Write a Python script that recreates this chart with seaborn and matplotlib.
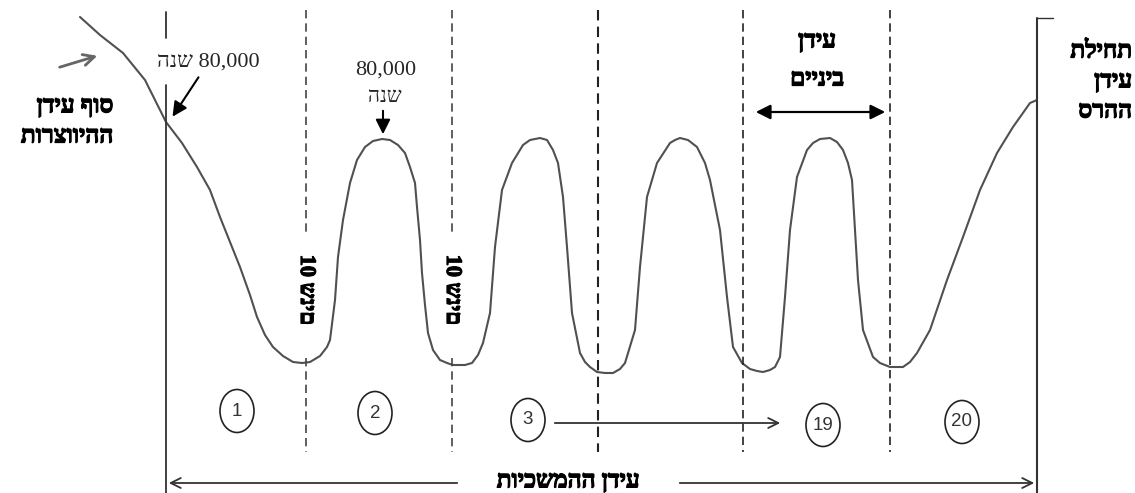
import matplotlib
matplotlib.use('Agg')
import matplotlib.pyplot as plt
import matplotlib.patheffects as pe
from matplotlib.patches import Ellipse
import seaborn as sns
import pandas as pd

# נקודות העקומה (קואורדינטות פיקסלים של התמונה)
curve_x = [80, 100, 123, 145, 166, 182, 197, 210, 220, 230, 240, 250, 257, 265, 273, 283, 293, 302,
           310, 320, 327, 330, 335, 338, 343, 350, 357, 365, 373, 382, 390, 398, 405, 410, 415,
           417, 420, 422, 425, 428, 433, 440, 447, 453, 465, 472, 478, 483, 490, 495, 502, 512,
           523, 530, 540, 547, 553, 558, 563, 567, 572, 580, 585, 590, 597, 605, 613, 620, 625,
           635, 640, 647, 657, 670, 675, 680, 688, 697, 705, 710, 720, 727, 733, 742, 750, 757,
           763, 770, 775, 780, 785, 790, 797, 807, 813, 820, 830, 837, 843, 848, 852, 855, 858,
           863, 873, 880, 890, 903, 910, 917, 930, 947, 963, 980, 997, 1013, 1030, 1037]
curve_y = [17, 35, 53, 80, 122, 143, 167, 190, 217, 242, 267, 295, 317, 335, 347, 356, 362, 363,
           362, 356, 347, 340, 300, 257, 220, 183, 160, 147, 141, 139, 140, 145, 153, 167, 183,
           207, 240, 273, 305, 333, 350, 360, 363, 365, 365, 363, 355, 343, 313, 247, 190, 163,
           145, 140, 138, 140, 150, 163, 197, 247, 313, 353, 362, 367, 372, 373, 373, 369, 363,
           330, 267, 197, 163, 143, 140, 138, 140, 147, 163, 180, 230, 297, 347, 363, 369, 371,
           372, 370, 367, 357, 297, 230, 177, 150, 143, 139, 138, 142, 150, 163, 180, 230, 280,
           330, 357, 363, 367, 367, 362, 353, 330, 280, 237, 190, 153, 127, 103, 100]

dashed_x = [306, 452, 598, 743, 890]
solid_x = [166, 1037]
circle_labels = ['1', '2', '3', '19', '20']
circle_x = [237, 375, 528, 823, 962]
circle_y = [411, 413, 420, 425, 422]


def rtl(s):
    # matplotlib לא מטפל בכיווניות - הופכים את הסדר לתצוגה
    words = s.split(' ')
    out = []
    for w in reversed(words):
        if any('\u0590' <= c <= '\u05ff' for c in w):
            out.append(w[::-1])
        else:
            out.append(w)
    return ' '.join(out)


sns.set_style('white')
plt.rcParams['font.family'] = ['Liberation Serif', 'DejaVu Sans']

fig = plt.figure(figsize=(11.35, 4.93), dpi=100)
ax = fig.add_axes([0, 0, 1, 1])

df = pd.DataFrame({'x': curve_x, 'y': curve_y})
sns.lineplot(data=df, x='x', y='y', sort=False, estimator=None, color='#505050', lw=1.5, ax=ax)

# קווים אנכיים
for i, x in enumerate(dashed_x):
    if i < 2:
        ax.plot([x, x], [10, 235], ls=(0, (5, 3)), color='#444444', lw=1.2)
        ax.plot([x, x], [358, 452], ls=(0, (5, 3)), color='#444444', lw=1.2)
    else:
        ax.plot([x, x], [10, 452], ls=(0, (5, 3)), color='#222222', lw=1.5 if x == 598 else 1.2)
ax.plot([solid_x[0]] * 2, [12, 38], color='#333333', lw=1.3)
ax.plot([solid_x[0]] * 2, [85, 493], color='#333333', lw=1.3)
ax.plot([solid_x[1]] * 2, [18, 493], color='#333333', lw=1.5)
ax.plot([1037, 1053], [18, 18], color='#333333', lw=1.0)

# טקסטים
thick = [pe.withStroke(linewidth=0.9, foreground='black')]
bold = dict(fontweight='bold', fontsize=17.5, color='black', path_effects=thick)
ax.text(113, 107, rtl('סוף עידן'), ha='right', va='center', **bold)
ax.text(113, 137, rtl('ההיווצרות'), ha='right', va='center', **bold)
ax.text(1132, 52, rtl('תחילת'), ha='right', va='center', **bold)
ax.text(1132, 82, rtl('עידן'), ha='right', va='center', **bold)
ax.text(1132, 112, rtl('ההרס'), ha='right', va='center', **bold)
ax.text(817, 42, rtl('עידן'), ha='center', va='center', **bold)
ax.text(817, 80, rtl('ביניים'), ha='center', va='center', **bold)
ax.text(568, 482, rtl('עידן ההמשכיות'), ha='center', va='center', **bold)
for x in dashed_x[:2]:
    ax.text(x, 290, '10 שנים', rotation=-90, ha='center', va='center',
            **dict(bold, fontsize=16))

ax.text(208, 62, rtl('80,000 שנה'), ha='center', va='center', fontsize=16)
ax.text(386, 70, '80,000', ha='center', va='center', fontsize=16)
ax.text(385, 97, rtl('שנה'), ha='center', va='center', fontsize=15)

# חצים
ax.annotate('', xy=(171, 119), xytext=(200, 75),
            arrowprops=dict(arrowstyle='-|>', color='black', lw=1.5, mutation_scale=22))
ax.annotate('', xy=(383, 137), xytext=(383, 108),
            arrowprops=dict(arrowstyle='-|>', color='black', lw=1.5, mutation_scale=22))
ax.annotate('', xy=(888, 112), xytext=(753, 112),
            arrowprops=dict(arrowstyle='<|-|>', color='black', lw=1.6, mutation_scale=22))
ax.annotate('', xy=(100, 55), xytext=(57, 68),
            arrowprops=dict(arrowstyle='->', color='#666666', lw=2.0, mutation_scale=20))
ax.annotate('', xy=(783, 423), xytext=(552, 423),
            arrowprops=dict(arrowstyle='->', color='#333333', lw=1.3, mutation_scale=18))
ax.annotate('', xy=(166, 483), xytext=(460, 483),
            arrowprops=dict(arrowstyle='->', color='#333333', lw=1.3, mutation_scale=18))
ax.annotate('', xy=(1037, 483), xytext=(677, 483),
            arrowprops=dict(arrowstyle='->', color='#333333', lw=1.3, mutation_scale=18))

# מספרים בעיגולים
for lab, x, y in zip(circle_labels, circle_x, circle_y):
    ax.add_patch(Ellipse((x, y), 34, 43, fill=False, ec='#222222', lw=1.2))
    ax.text(x, y, lab, ha='center', va='center', fontsize=13.5, color='#333333',
            family=['Liberation Sans', 'DejaVu Sans'])

ax.set_xlim(0, 1135)
ax.set_ylim(493, 0)
ax.axis('off')

fig.savefig('out.png', dpi=100)
